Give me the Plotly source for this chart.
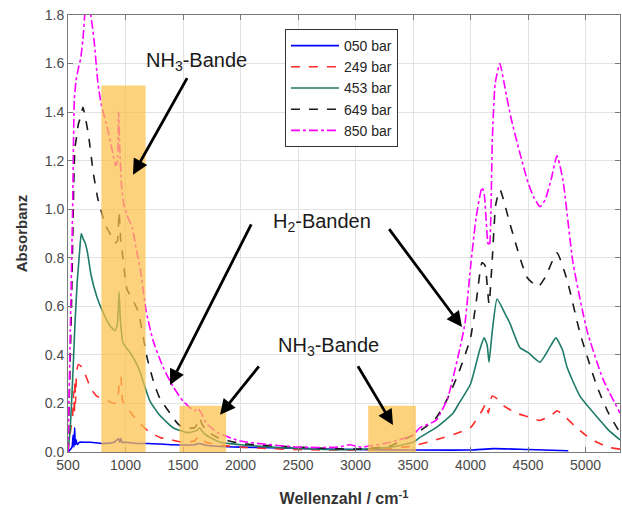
import plotly.graph_objects as go

# ---------------- data ----------------
x_050 = [500, 520, 535, 545, 552, 558, 563, 570, 580, 600, 650, 700, 800, 900, 940, 950, 960, 970, 1000,
         1100, 1200, 1400, 1600, 1640, 1700, 2000, 2500, 3000, 3500, 4000, 4200, 4500, 4850]
y_050 = [0.0, 0.01, 0.02, 0.07, 0.02, 0.10, 0.03, 0.05, 0.03, 0.04, 0.04, 0.04, 0.035, 0.04, 0.055, 0.04,
         0.055, 0.04, 0.04, 0.035, 0.035, 0.03, 0.03, 0.035, 0.028, 0.02, 0.015, 0.01, 0.008, 0.008, 0.014,
         0.01, 0.005]

x_249 = [500, 520, 540, 550, 555, 560, 565, 575, 590, 620, 650, 700, 750, 800, 850, 900, 930, 945, 960, 975,
         1000, 1050, 1100, 1200, 1300, 1400, 1500, 1600, 1630, 1645, 1660, 1700, 1800, 2000, 2500, 3000,
         3300, 3500, 3700, 3900, 4000, 4100, 4135, 4155, 4187, 4230, 4290, 4400, 4500, 4600, 4700, 4752,
         4800, 4900, 5000, 5100, 5200, 5300]
y_249 = [0.0, 0.08, 0.15, 0.25, 0.15, 0.30, 0.2, 0.33, 0.36, 0.35, 0.32, 0.26, 0.23, 0.22, 0.21, 0.2, 0.21,
         0.28, 0.31, 0.21, 0.19, 0.16, 0.13, 0.085, 0.06, 0.05, 0.04, 0.045, 0.06, 0.05, 0.055, 0.04, 0.03,
         0.02, 0.01, 0.008, 0.015, 0.025, 0.05, 0.08, 0.1, 0.17, 0.2, 0.16, 0.23, 0.22, 0.19, 0.16, 0.145,
         0.13, 0.15, 0.17, 0.155, 0.11, 0.07, 0.04, 0.02, 0.012]

x_453 = [500, 520, 545, 560, 580, 600, 615, 630, 650, 670, 700, 750, 800, 865, 909, 930, 944, 955, 978,
         1039, 1100, 1126, 1213, 1300, 1413, 1535, 1600, 1622, 1645, 1660, 1700, 1822, 2000, 2500, 3000,
         3300, 3500, 3560, 3700, 3848, 3900, 4000, 4080, 4118, 4145, 4161, 4190, 4231, 4300, 4343, 4430,
         4500, 4604, 4700, 4743, 4800, 4839, 4952, 5126, 5200, 5300]
y_453 = [0.0, 0.1, 0.35, 0.52, 0.7, 0.82, 0.9, 0.88, 0.86, 0.82, 0.73, 0.64, 0.58, 0.52, 0.5, 0.53, 0.66,
         0.55, 0.45, 0.41, 0.36, 0.33, 0.21, 0.15, 0.1, 0.08, 0.085, 0.09, 0.1, 0.09, 0.07, 0.04, 0.03,
         0.015, 0.01, 0.02, 0.04, 0.06, 0.1, 0.16, 0.2, 0.28, 0.42, 0.47, 0.44, 0.37, 0.5, 0.63, 0.57,
         0.53, 0.43, 0.41, 0.37, 0.44, 0.47, 0.42, 0.35, 0.23, 0.13, 0.09, 0.05]

x_649 = [500, 530, 550, 560, 575, 590, 610, 630, 650, 680, 720, 761, 830, 865, 909, 930, 944, 960, 970, 1013,
         1060, 1100, 1120, 1187, 1250, 1300, 1387, 1448, 1500, 1600, 1630, 1645, 1660, 1700, 1800, 2000,
         2500, 3000, 3300, 3500, 3600, 3700, 3800, 3900, 4000, 4050, 4100, 4125, 4161, 4190, 4220, 4257,
         4343, 4491, 4587, 4650, 4752, 4839, 4952, 5100, 5200, 5300]
y_649 = [0.0, 0.6, 1.1, 1.25, 1.3, 1.35, 1.38, 1.42, 1.38, 1.3, 1.15, 1.04, 0.93, 0.9, 0.86, 0.87, 0.99,
         0.86, 0.83, 0.67, 0.63, 0.59, 0.56, 0.39, 0.28, 0.22, 0.16, 0.12, 0.1, 0.1, 0.12, 0.14, 0.12, 0.09,
         0.06, 0.035, 0.02, 0.012, 0.025, 0.07, 0.1, 0.14, 0.22, 0.33, 0.47, 0.62, 0.78, 0.77, 0.61, 0.8,
         1.02, 1.08, 0.94, 0.72, 0.68, 0.72, 0.82, 0.71, 0.49, 0.27, 0.16, 0.08]

x_850 = [500, 520, 540, 555, 570, 590, 610, 630, 650, 670, 690, 710, 730, 760, 790, 840, 890, 915, 930, 940,
         950, 965, 985, 1010, 1060, 1100, 1130, 1150, 1180, 1239, 1326, 1413, 1500, 1600, 1630, 1645,
         1660, 1700, 1800, 2000, 2500, 2850, 2950, 3050, 3300, 3500, 3561, 3700, 3800, 3909, 3952, 4000,
         4050, 4100, 4120, 4152, 4165, 4190, 4215, 4255, 4300, 4350, 4430, 4500, 4550, 4605, 4650, 4700,
         4752, 4804, 4891, 5013, 5152, 5300]
y_850 = [0.0, 0.5, 1.0, 1.45, 1.53, 1.58, 1.62, 1.7, 1.82, 1.85, 1.82, 1.76, 1.68, 1.52, 1.43, 1.34, 1.23,
         1.18, 1.2, 1.40, 1.25, 1.1, 1.02, 0.98, 0.92, 0.82, 0.75, 0.68, 0.58, 0.46, 0.35, 0.27, 0.21,
         0.17, 0.18, 0.17, 0.16, 0.12, 0.08, 0.045, 0.02, 0.02, 0.03, 0.02, 0.04, 0.07, 0.1, 0.13, 0.22,
         0.43, 0.53, 0.76, 0.97, 1.09, 1.06, 0.86, 0.85, 1.29, 1.52, 1.6, 1.5, 1.38, 1.23, 1.11, 1.05,
         1.01, 1.04, 1.12, 1.22, 1.12, 0.78, 0.5, 0.3, 0.16]

series_names = ["050 bar", "249 bar", "453 bar", "649 bar", "850 bar"]
series_x = [x_050, x_249, x_453, x_649, x_850]
series_y = [y_050, y_249, y_453, y_649, y_850]
series_colors = ["#0000FF", "#FF2A2A", "#1E7B69", "#1A1A1A", "#FF00FF"]
series_dash = ["solid", "dash", "solid", "dash", "dashdot"]

# highlighted bands: (x0, x1, height)
band_x0 = [790, 1470, 3110]
band_x1 = [1175, 1875, 3525]
band_top = [1.51, 0.19, 0.19]

x_ticks = [500, 1000, 1500, 2000, 2500, 3000, 3500, 4000, 4500, 5000]
y_ticks = [0.0, 0.2, 0.4, 0.6, 0.8, 1.0, 1.2, 1.4, 1.6, 1.8]

# ---------------- figure ----------------
fig = go.Figure()
for n, xs, ys, c, d in zip(series_names, series_x, series_y, series_colors, series_dash):
    fig.add_trace(go.Scatter(x=xs, y=ys, name=n, mode="lines",
                             line=dict(color=c, dash=d, width=1.6, shape="spline", smoothing=0.5)))

for x0, x1, top in zip(band_x0, band_x1, band_top):
    fig.add_shape(type="rect", xref="x", yref="y", x0=x0, x1=x1, y0=0, y1=top,
                  fillcolor="#FBC14A", opacity=0.72, line=dict(width=0), layer="above")

font_txt = dict(family="Liberation Sans, Arial, sans-serif", size=20, color="#1a1a1a")
texts = [("NH<sub>3</sub>-Bande", 1613, 1.608), ("H<sub>2</sub>-Banden", 2709, 0.944),
         ("NH<sub>3</sub>-Bande", 2761, 0.433)]
for t, tx, ty in texts:
    fig.add_annotation(x=tx, y=ty, text=t, showarrow=False, font=font_txt, xref="x", yref="y")

arrows = [(1543, 1.546, 1065, 1.142), (2100, 0.944, 1387, 0.276), (3283, 0.924, 3926, 0.515),
          (2170, 0.359, 1822, 0.153), (3013, 0.359, 3326, 0.111)]
for ax_, ay_, hx, hy in arrows:
    fig.add_annotation(x=hx, y=hy, ax=ax_, ay=ay_, xref="x", yref="y", axref="x", ayref="y",
                       text="", showarrow=True, arrowhead=2, arrowsize=1.1, arrowwidth=2.8,
                       arrowcolor="#000000")

axis_common = dict(showgrid=True, gridcolor="#E3E3E3", gridwidth=1, showline=True, linecolor="#7a7a7a",
                   linewidth=1, mirror="ticks", ticks="inside", ticklen=5, tickcolor="#7a7a7a",
                   tickfont=dict(family="Liberation Sans, Arial, sans-serif", size=14, color="#4a4a4a"),
                   zeroline=False, automargin=False)

fig.update_layout(
    width=622, height=514,
    margin=dict(l=68, r=2, t=15, b=62),
    paper_bgcolor="white", plot_bgcolor="white",
    xaxis=dict(range=[500, 5300], tickvals=x_ticks, ticktext=[str(v) for v in x_ticks],
               title=dict(text="<b>Wellenzahl / cm<sup>-1</sup></b>", standoff=21,
                          font=dict(family="Liberation Sans, Arial, sans-serif", size=16, color="#333333")),
               **axis_common),
    yaxis=dict(range=[0, 1.8], tickvals=y_ticks, ticktext=[f"{v:.1f}" for v in y_ticks],
               title=dict(text="<b>Absorbanz</b>", standoff=13,
                          font=dict(family="Liberation Sans, Arial, sans-serif", size=15, color="#333333")),
               **axis_common),
    legend=dict(x=0.393, y=0.968, xanchor="left", yanchor="top", bgcolor="white",
                bordercolor="#333333", borderwidth=1,
                font=dict(family="Liberation Sans, Arial, sans-serif", size=14, color="#262626"),
                tracegroupgap=0, itemwidth=48),
    showlegend=True,
)

fig.write_html("out.html", config={"displayModeBar": False},
               post_script="document.body.style.margin='0';")
